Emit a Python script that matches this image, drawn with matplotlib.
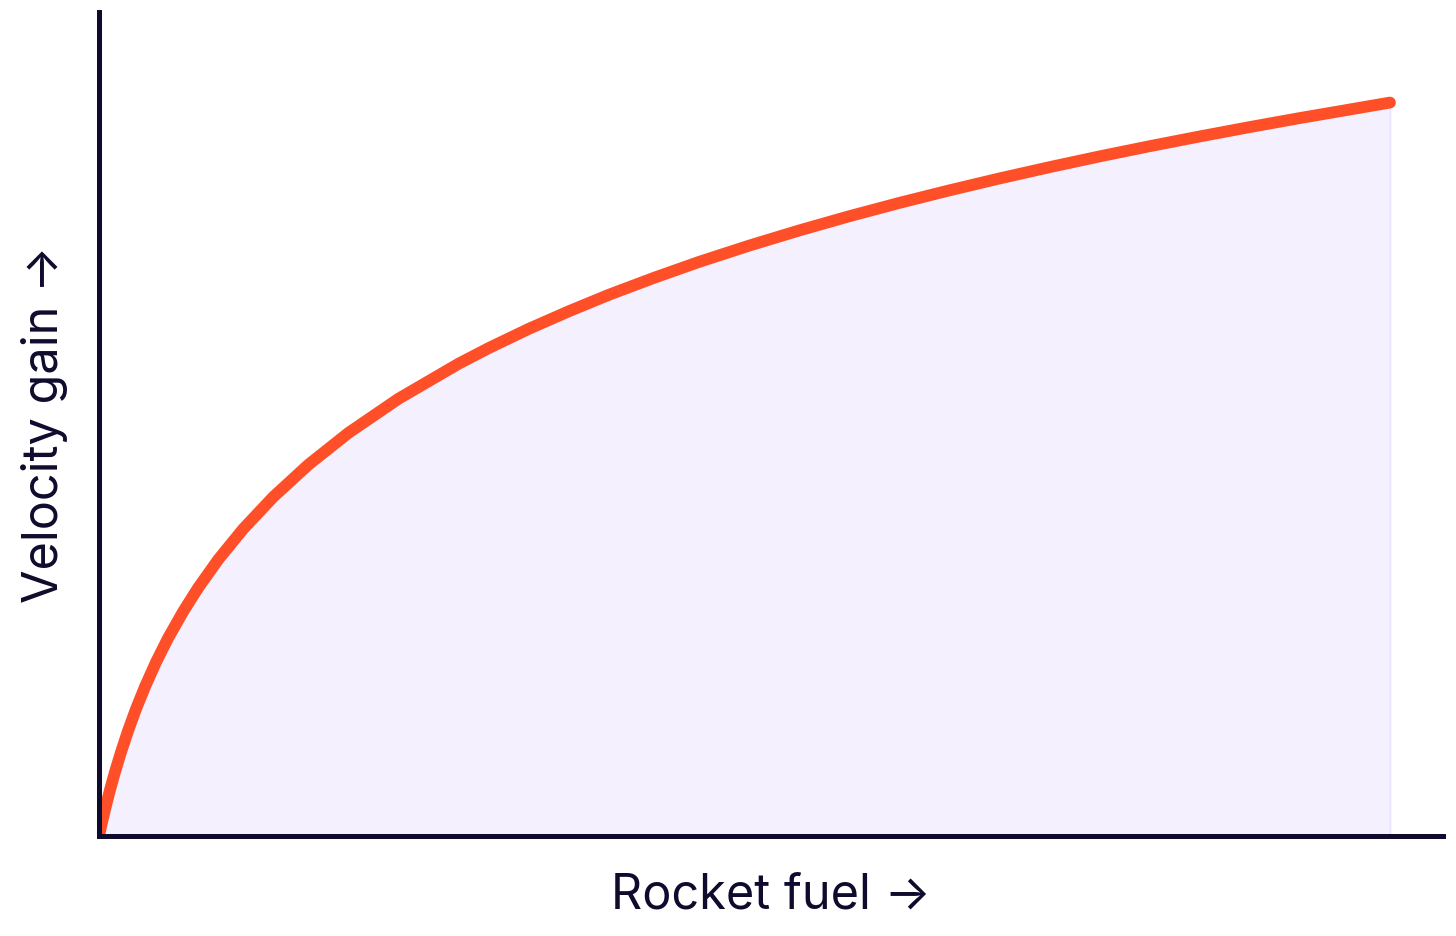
import matplotlib
matplotlib.use("Agg")
import matplotlib.pyplot as plt

# values (fuel and velocity both in % of the end point)
fuel = [0, 0.23, 0.54, 0.85, 1.24, 1.71, 2.25, 2.87, 3.57, 4.42, 5.35, 6.52,
        7.68, 9.23, 11.17, 13.50, 16.21, 19.32, 23.20, 27.85, 30.18, 33.28,
        36.40, 39.49, 42.98, 46.47, 50.35, 54.23, 58.11, 61.99, 65.87, 69.74,
        73.62, 77.50, 81.38, 85.26, 89.14, 93.02, 96.51, 100]
velocity = [0, 1.85, 4.14, 6.28, 8.75, 11.47, 14.35, 17.34, 20.38, 23.72,
            26.98, 30.61, 33.84, 37.68, 41.87, 46.23, 50.61, 54.96, 59.62,
            64.39, 66.52, 69.14, 71.55, 73.79, 76.10, 78.27, 80.49, 82.56,
            84.50, 86.32, 88.03, 89.65, 91.19, 92.66, 94.05, 95.38, 96.66,
            97.89, 98.94, 100]

x_label = "Rocket fuel \u2192"
y_label = "Velocity gain \u2192"

ink = "#0e0b2c"
orange = "#ff4f28"
lavender = "#f4f0fe"

plt.rcParams['font.family'] = ['Inter', 'DejaVu Sans']

fig = plt.figure(figsize=(14.56, 9.36), dpi=100)
ax = fig.add_axes([0.068, 0.1068, 0.923, 0.880])

ax.fill_between(fuel, velocity, 0, facecolor=lavender, edgecolor="#e9e4fb",
                linewidth=1.2, zorder=1)
ax.plot(fuel, velocity, color=orange, linewidth=8.5, solid_capstyle="round",
        solid_joinstyle="round", zorder=3)

ax.set_xlim(0, 104.1)
ax.set_ylim(0, 112.3)

for side in ["top", "right"]:
    ax.spines[side].set_visible(False)
for side in ["left", "bottom"]:
    ax.spines[side].set_color(ink)
    ax.spines[side].set_linewidth(3.6)
    ax.spines[side].set_zorder(4)

ax.set_xticks([])
ax.set_yticks([])

ax.set_xlabel(x_label, fontsize=35, color=ink, labelpad=26)
ax.set_ylabel(y_label, fontsize=35, color=ink, labelpad=22)

fig.savefig("out.png", dpi=100)
